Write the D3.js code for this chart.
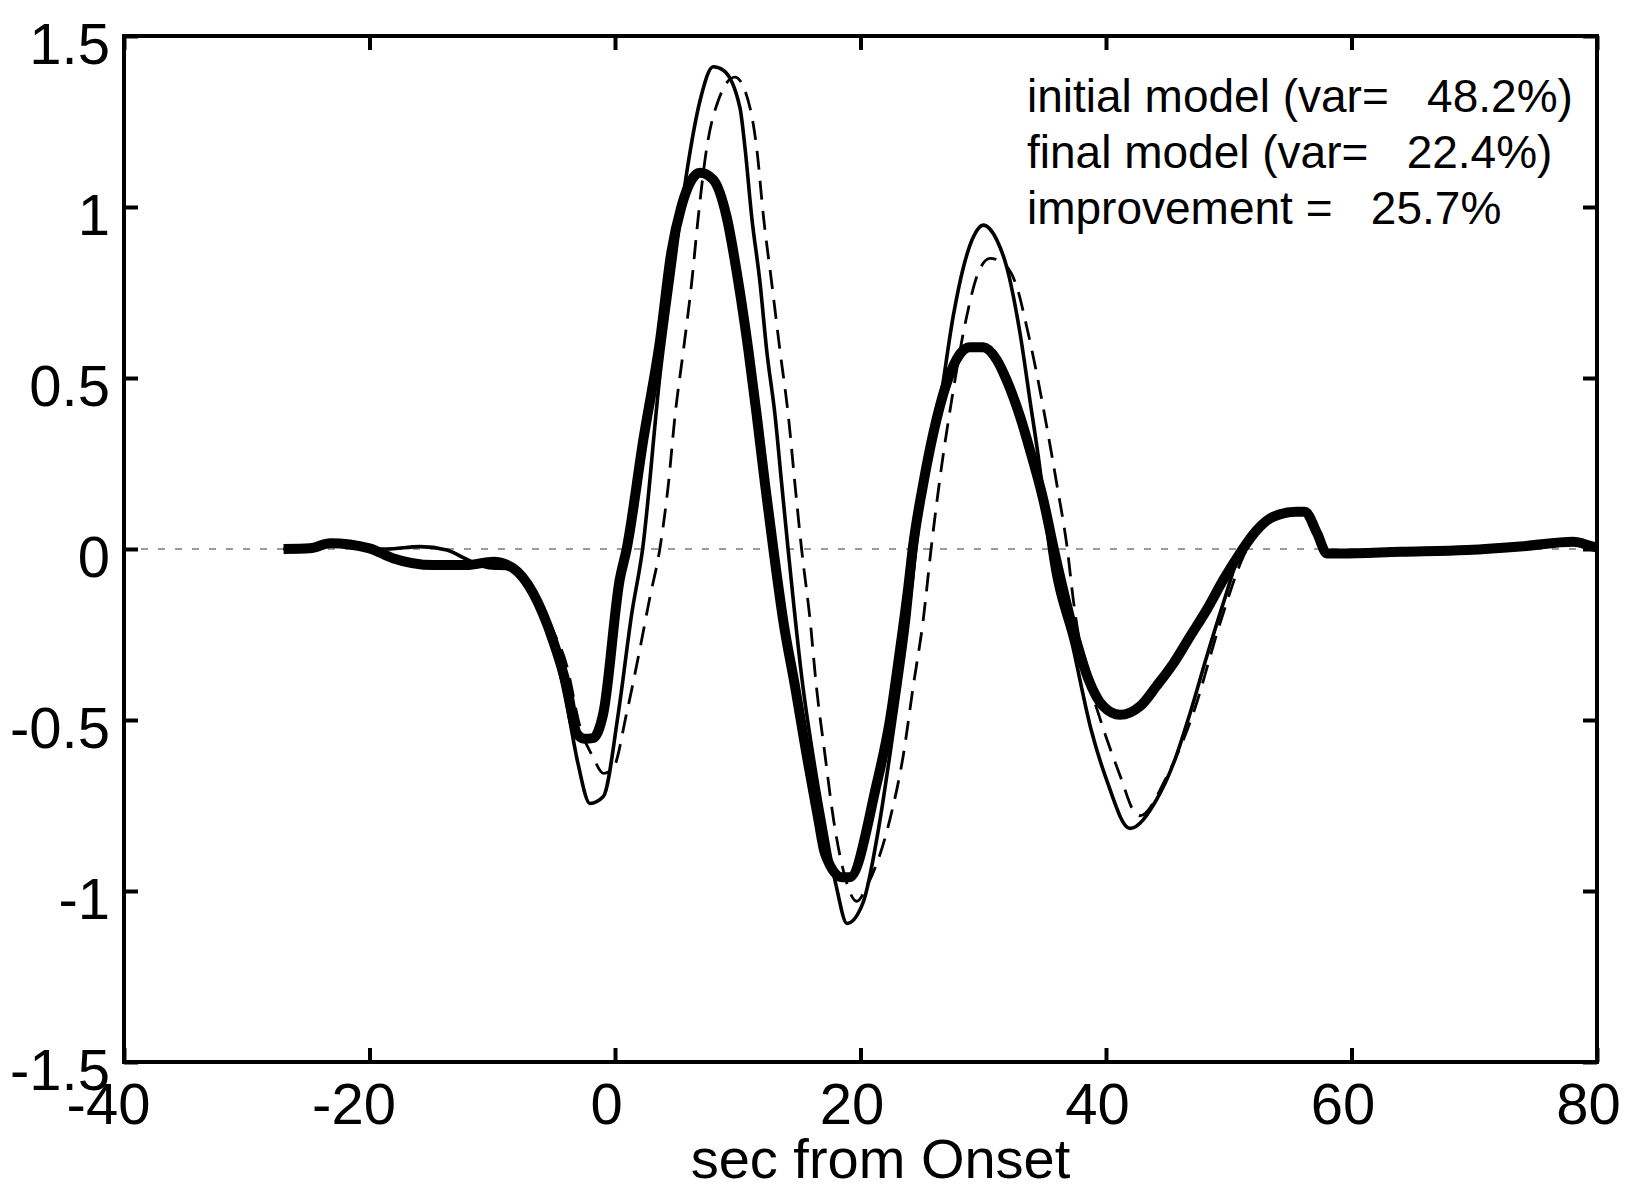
<html>
<head>
  <style type="text/css">
    body { margin: 0; background: #fff; }
    svg { font-family: "Liberation Sans", Arial, sans-serif; }
  </style>
</head>
<body>
  <div id="viz"></div>
  <script src="https://cdnjs.cloudflare.com/ajax/libs/d3/7.8.5/d3.min.js"></script>
  <script>
  // observed waveform (thin solid)
  const obsT = [-27, -24.85, -23.2, -20, -18.6, -15.9, -13.7, -12.1, -10.45, -8.3, -6.66, -5.03, -3.9, -3.0, -2.04, -0.95,
    0.27, 1.36, 2.25, 3.67, 4.75, 5.84, 6.92, 8.0, 8.82, 10.18, 10.6, 11.14, 11.81, 12.36, 13.04, 13.58, 14.1, 15.3, 16.2,
    17.0, 18.05, 18.9, 20.2, 21.6, 22.4, 23.2, 23.9, 24.5, 25.4, 26.5, 27.55, 28.4, 29.2, 30.0, 31.1, 31.9, 33.0, 33.8,
    34.6, 35.4, 37.3, 38.8, 40.05, 41.95, 44.1, 45.5, 46.85, 48.2, 49.55, 50.9, 52.3];
  const obsV = [0.0, 0.002, 0.017, 0.0, 0.0, 0.007, -0.003, -0.03, -0.053, -0.06, -0.14, -0.28, -0.46, -0.63, -0.744, -0.724,
    -0.48, -0.19, 0.0, 0.51, 0.81, 1.10, 1.31, 1.41, 1.40, 1.29, 1.17, 0.97, 0.78, 0.58, 0.39, 0.19, 0.0, -0.40, -0.62,
    -0.79, -0.99, -1.095, -1.035, -0.79, -0.60, -0.40, -0.21, 0.0, 0.24, 0.436, 0.68, 0.826, 0.913, 0.947, 0.904, 0.826, 0.63, 0.436,
    0.24, 0.0, -0.286, -0.53, -0.675, -0.817, -0.734, -0.627, -0.48, -0.315, -0.159, -0.013, 0.056];

  // initial model (dashed)
  const initT = [-27, -23.2, -20, -18.1, -14.8, -12.1, -9.9, -8.3, -6.66, -5.03, -3.94, -2.85, -1.77, -0.95, -0.14,
    0.95, 2.04, 2.85, 3.65, 4.35, 4.89, 5.57, 6.25, 6.78, 7.46, 8.4, 9.77, 11.0, 11.55, 12.1, 12.76, 13.44, 14.12, 14.66,
    15.2, 15.9, 16.4, 17.1, 17.8, 18.6, 19.7, 20.5, 22.4, 23.5, 24.3, 25.1, 25.75, 26.6, 27.43, 28.65, 29.47, 30.55, 31.9,
    32.73, 33.54, 34.35, 35.17, 35.98, 36.85, 37.34, 38.16, 39.37, 41.27, 42.2, 42.77, 44.94, 47.11, 49.29, 51.19, 52.3];
  const initV = [0.0, 0.015, 0.002, -0.025, -0.045, -0.045, -0.037, -0.055, -0.12, -0.24, -0.34, -0.52, -0.61, -0.656, -0.64,
    -0.48, -0.29, -0.14, 0.0, 0.19, 0.39, 0.58, 0.78, 0.97, 1.17, 1.31, 1.38, 1.29, 1.17, 0.97, 0.78, 0.58, 0.39, 0.19,
    0.0, -0.21, -0.40, -0.60, -0.79, -0.94, -1.03, -0.987, -0.79, -0.60, -0.40, -0.21, 0.0, 0.24, 0.436, 0.68, 0.796, 0.85, 0.826,
    0.767, 0.65, 0.514, 0.358, 0.192, 0.0, -0.15, -0.33, -0.48, -0.675, -0.763, -0.78, -0.666, -0.48, -0.217, -0.022, 0.05];

  // final model (thick)
  const finT = [-27, -24.85, -23.2, -20, -18.1, -14.8, -12.1, -9.9, -8.3, -6.66, -5.03, -3.94, -3.1, -2.5, -1.8, -0.95,
    0.38, 0.95, 2.31, 3.67, 4.6, 5.4, 6.1, 6.92, 8.0, 9.1, 10.05, 10.87, 11.55, 12.22, 12.9, 13.75, 14.66, 15.6, 16.56,
    17.1, 18.5, 19.1, 21.3, 22.4, 23.2, 23.9, 24.25, 25.12, 25.93, 27.02, 28.1, 28.9, 30.0, 31.1, 31.9, 33.0, 33.8, 34.9,
    35.75, 37.34, 38.56, 39.78, 41.14, 42.77, 44.13, 45.5, 46.84, 48.2, 49.56, 50.9, 52.3, 53.6, 55.5, 56.2, 57.2, 58.0,
    59.1, 64, 69.4, 74, 78.07, 79.7, 80];
  const finV = [0.0, 0.002, 0.017, 0.002, -0.027, -0.047, -0.047, -0.037, -0.056, -0.13, -0.27, -0.40, -0.54, -0.555, -0.553, -0.48,
    -0.09, 0.0, 0.32, 0.61, 0.87, 1.0, 1.07, 1.10, 1.08, 0.97, 0.78, 0.58, 0.39, 0.19, 0.0, -0.22, -0.40, -0.60, -0.79,
    -0.89, -0.96, -0.96, -0.69, -0.50, -0.30, -0.11, 0.0, 0.192, 0.338, 0.485, 0.57, 0.59, 0.59, 0.553, 0.494, 0.387, 0.29, 0.143,
    0.0, -0.237, -0.38, -0.46, -0.485, -0.46, -0.40, -0.334, -0.256, -0.178, -0.09, -0.013, 0.056, 0.094, 0.109, 0.109, 0.046, -0.013,
    -0.013, -0.008, -0.003, 0.008, 0.021, 0.007, 0.005];

  const xTicks = [-40, -20, 0, 20, 40, 60, 80];
  const yTicks = [-1.5, -1, -0.5, 0, 0.5, 1, 1.5];
  const legendLines = ['initial model (var=   48.2%)', 'final model (var=   22.4%)', 'improvement =   25.7%'];
  const xLabel = 'sec from Onset';

  const width = 1626, height = 1191;
  const margin = { top: 36, right: 29, bottom: 129, left: 124 };

  const x = d3.scaleLinear().domain([-40, 80]).range([margin.left, width - margin.right]);
  const y = d3.scaleLinear().domain([-1.5, 1.5]).range([height - margin.bottom, margin.top]);

  const svg = d3.select('#viz').append('svg')
    .attr('width', width)
    .attr('height', height);

  svg.append('rect').attr('width', width).attr('height', height).attr('fill', '#fff');

  // zero reference line
  svg.append('line')
    .attr('x1', x(-40)).attr('x2', x(80))
    .attr('y1', y(0)).attr('y2', y(0))
    .attr('stroke', '#9a9a9a')
    .attr('stroke-width', 2)
    .attr('stroke-dasharray', '7,10');

  const line = d3.line()
    .x(d => x(d[0]))
    .y(d => y(d[1]))
    .curve(d3.curveMonotoneX);

  const zip = (ts, vs) => ts.map((t, i) => [t, vs[i]]);

  svg.append('path')
    .datum(zip(obsT, obsV))
    .attr('d', line)
    .attr('fill', 'none')
    .attr('stroke', '#000')
    .attr('stroke-width', 3.6)
    .attr('stroke-linejoin', 'round');

  svg.append('path')
    .datum(zip(initT, initV))
    .attr('d', line)
    .attr('fill', 'none')
    .attr('stroke', '#000')
    .attr('stroke-width', 2.8)
    .attr('stroke-dasharray', '19,11');

  svg.append('path')
    .datum(zip(finT, finV))
    .attr('d', line)
    .attr('fill', 'none')
    .attr('stroke', '#000')
    .attr('stroke-width', 10)
    .attr('stroke-linejoin', 'round');

  // axes: inward ticks on all four sides
  const tickLen = 14;
  const fmt = d => String(d);

  const gBottom = svg.append('g')
    .attr('transform', 'translate(0,' + y(-1.5) + ')')
    .call(d3.axisBottom(x).tickValues(xTicks).tickSize(-tickLen).tickPadding(21).tickFormat(fmt));
  const gTop = svg.append('g')
    .attr('transform', 'translate(0,' + y(1.5) + ')')
    .call(d3.axisTop(x).tickValues(xTicks).tickSize(-tickLen).tickFormat(''));
  const gLeft = svg.append('g')
    .attr('transform', 'translate(' + x(-40) + ',0)')
    .call(d3.axisLeft(y).tickValues(yTicks).tickSize(-tickLen).tickPadding(14).tickFormat(fmt));
  const gRight = svg.append('g')
    .attr('transform', 'translate(' + x(80) + ',0)')
    .call(d3.axisRight(y).tickValues(yTicks).tickSize(-tickLen).tickFormat(''));

  [gBottom, gTop, gLeft, gRight].forEach(g => {
    g.select('.domain').remove();
    g.selectAll('.tick line').attr('stroke', '#000').attr('stroke-width', 4);
  });

  gBottom.selectAll('.tick text')
    .attr('font-size', 58)
    .attr('font-family', '"Liberation Sans", Arial, sans-serif')
    .attr('fill', '#000')
    .attr('dx', d => d < 0 ? -16 : -9)
    .attr('dy', '0.71em');
  gLeft.selectAll('.tick text')
    .attr('font-size', 58)
    .attr('font-family', '"Liberation Sans", Arial, sans-serif')
    .attr('fill', '#000')
    .attr('dy', '0.48em');

  // frame
  svg.append('rect')
    .attr('x', x(-40)).attr('y', y(1.5))
    .attr('width', x(80) - x(-40))
    .attr('height', y(-1.5) - y(1.5))
    .attr('fill', 'none')
    .attr('stroke', '#000')
    .attr('stroke-width', 4);

  // annotation
  svg.append('g').selectAll('text')
    .data(legendLines)
    .enter().append('text')
      .attr('x', 1027)
      .attr('y', (d, i) => 112 + i * 56)
      .attr('font-size', 46)
      .attr('fill', '#000')
      .style('white-space', 'pre')
      .attr('xml:space', 'preserve')
      .text(d => d);

  svg.append('text')
    .attr('x', (x(-40) + x(80)) / 2 + 20)
    .attr('y', 1178)
    .attr('text-anchor', 'middle')
    .attr('font-size', 56)
    .attr('fill', '#000')
    .text(xLabel);
  </script>
</body>
</html>
